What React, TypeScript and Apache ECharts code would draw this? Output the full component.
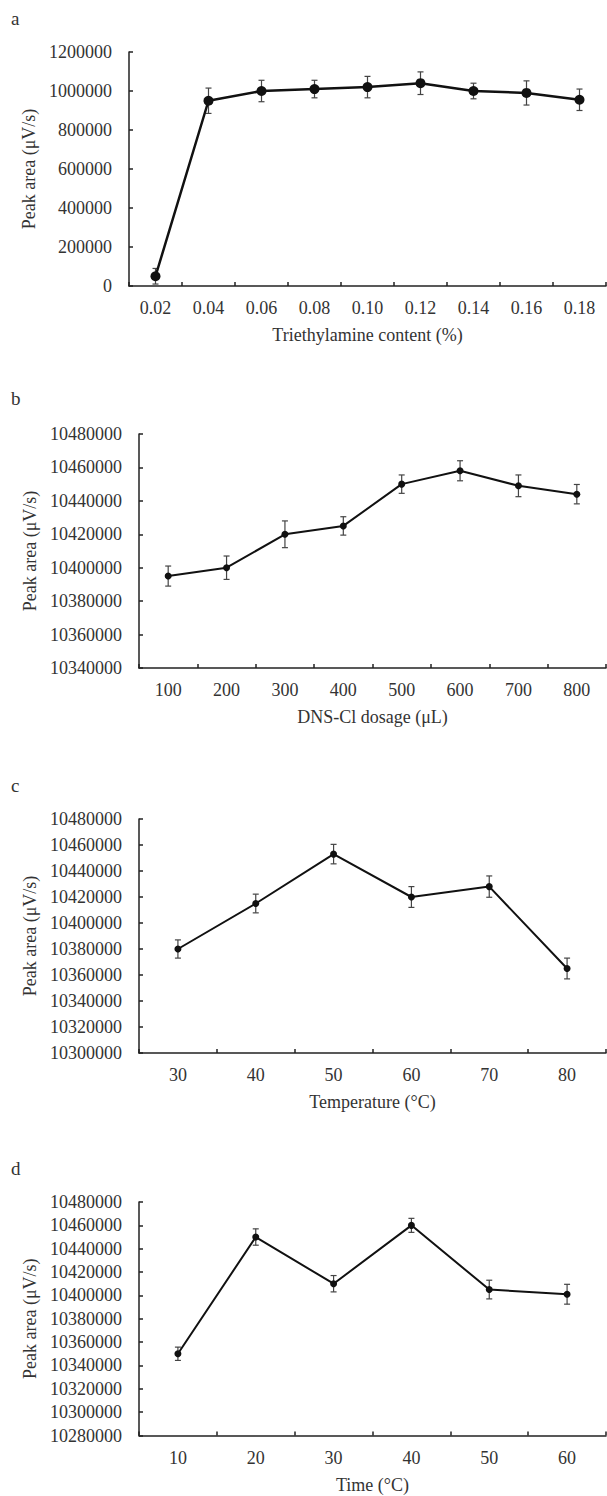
import React, { useEffect, useRef } from "react";
import * as echarts from "echarts";

// Panel a
const catsA = ["0.02", "0.04", "0.06", "0.08", "0.10", "0.12", "0.14", "0.16", "0.18"];
const valsA = [50000, 950000, 1000000, 1010000, 1020000, 1040000, 1000000, 990000, 955000];
const errA = [40000, 65000, 55000, 45000, 55000, 58000, 40000, 62000, 55000];

// Panel b
const catsB = ["100", "200", "300", "400", "500", "600", "700", "800"];
const valsB = [10395000, 10400000, 10420000, 10425000, 10450000, 10458000, 10449000, 10444000];
const errB = [6000, 7000, 8000, 5500, 5500, 6000, 6500, 5800];

// Panel c
const catsC = ["30", "40", "50", "60", "70", "80"];
const valsC = [10380000, 10415000, 10453000, 10420000, 10428000, 10365000];
const errC = [7000, 7200, 7500, 8000, 8200, 8000];

// Panel d
const catsD = ["10", "20", "30", "40", "50", "60"];
const valsD = [10350000, 10450000, 10410000, 10460000, 10405000, 10401000];
const errD = [5700, 7000, 7000, 6000, 8000, 8500];

const FONT = "Liberation Serif";
const TXT = "#333";

type Panel = {
  letter: string;
  cats: string[];
  vals: number[];
  errs: number[];
  xName: string;
  yMin: number;
  yMax: number;
  yInt: number;
  grid: { left: number; top: number; width: number; height: number };
  letterY: number;
  symbolSize: number;
  lineWidth: number;
};

const panels: Panel[] = [
  {
    letter: "a", cats: catsA, vals: valsA, errs: errA, xName: "Triethylamine content (%)",
    yMin: 0, yMax: 1200000, yInt: 200000,
    grid: { left: 129, top: 52, width: 477, height: 234 }, letterY: 20, symbolSize: 10, lineWidth: 2.5,
  },
  {
    letter: "b", cats: catsB, vals: valsB, errs: errB, xName: "DNS-Cl dosage (μL)",
    yMin: 10340000, yMax: 10480000, yInt: 20000,
    grid: { left: 139, top: 434, width: 467, height: 234 }, letterY: 400, symbolSize: 7, lineWidth: 2,
  },
  {
    letter: "c", cats: catsC, vals: valsC, errs: errC, xName: "Temperature (°C)",
    yMin: 10300000, yMax: 10480000, yInt: 20000,
    grid: { left: 139, top: 819, width: 467, height: 234 }, letterY: 787, symbolSize: 7, lineWidth: 2,
  },
  {
    letter: "d", cats: catsD, vals: valsD, errs: errD, xName: "Time (°C)",
    yMin: 10280000, yMax: 10480000, yInt: 20000,
    grid: { left: 139, top: 1202, width: 467, height: 233.5 }, letterY: 1170, symbolSize: 7, lineWidth: 2,
  },
];

export default function App() {
  const ref = useRef<HTMLDivElement>(null);
  useEffect(() => {
    if (!ref.current) return;
    const chart = echarts.init(ref.current, null, { renderer: "svg" });
    const axisLine = { show: true, lineStyle: { color: "#222", width: 1.5 } };
    const option: any = {
      animation: false,
      backgroundColor: "#fff",
      textStyle: { fontFamily: FONT },
      grid: panels.map((p) => ({ ...p.grid, containLabel: false })),
      xAxis: panels.map((p, i) => ({
        type: "category",
        gridIndex: i,
        data: p.cats,
        boundaryGap: true,
        axisLine,
        axisTick: { show: true, inside: true, length: 4, lineStyle: { color: "#222", width: 1.5 } },
        axisLabel: { color: TXT, fontFamily: FONT, fontSize: 18, margin: 13 },
        splitLine: { show: false },
        name: p.xName,
        nameLocation: "middle",
        nameGap: 40,
        nameTextStyle: { color: TXT, fontFamily: FONT, fontSize: 18 },
      })),
      yAxis: panels.map((p, i) => ({
        type: "value",
        gridIndex: i,
        min: p.yMin,
        max: p.yMax,
        interval: p.yInt,
        axisLine,
        axisTick: { show: true, inside: true, length: 4, lineStyle: { color: "#222", width: 1.5 } },
        axisLabel: {
          color: TXT, fontFamily: FONT, fontSize: 18, margin: 17,
          formatter: (v: number) => String(v),
        },
        splitLine: { show: false },
        name: "Peak area (μV/s)",
        nameLocation: "middle",
        nameGap: p.grid.left - 47,
        nameTextStyle: { color: TXT, fontFamily: FONT, fontSize: 18 },
      })),
      series: panels.flatMap((p, i) => [
        {
          type: "custom",
          xAxisIndex: i,
          yAxisIndex: i,
          z: 1,
          encode: { x: 0, y: [1, 2] },
          data: p.vals.map((v, k) => [k, v - p.errs[k], v + p.errs[k]]),
          renderItem: (params: any, api: any) => {
            const x = api.value(0);
            const lo = api.coord([x, api.value(1)]);
            const hi = api.coord([x, api.value(2)]);
            const w = 3;
            const st = { stroke: "#444", lineWidth: 1.2 };
            return {
              type: "group",
              children: [
                { type: "line", shape: { x1: hi[0], y1: hi[1], x2: lo[0], y2: lo[1] }, style: st },
                { type: "line", shape: { x1: hi[0] - w, y1: hi[1], x2: hi[0] + w, y2: hi[1] }, style: st },
                { type: "line", shape: { x1: lo[0] - w, y1: lo[1], x2: lo[0] + w, y2: lo[1] }, style: st },
              ],
            };
          },
        },
        {
          type: "line",
          xAxisIndex: i,
          yAxisIndex: i,
          z: 2,
          data: p.vals,
          symbol: "circle",
          symbolSize: p.symbolSize,
          showSymbol: true,
          lineStyle: { color: "#111", width: p.lineWidth },
          itemStyle: { color: "#111" },
        },
      ]),
      graphic: panels.map((p) => ({
        type: "text",
        left: 11,
        top: p.letterY - 11,
        style: { text: p.letter, fill: TXT, font: `19px ${FONT}` },
      })),
    };
    chart.setOption(option);
    return () => chart.dispose();
  }, []);
  return (
    <div
      ref={ref}
      style={{ position: "absolute", left: 0, top: 0, width: 607, height: 1496, background: "#fff" }}
    />
  );
}
